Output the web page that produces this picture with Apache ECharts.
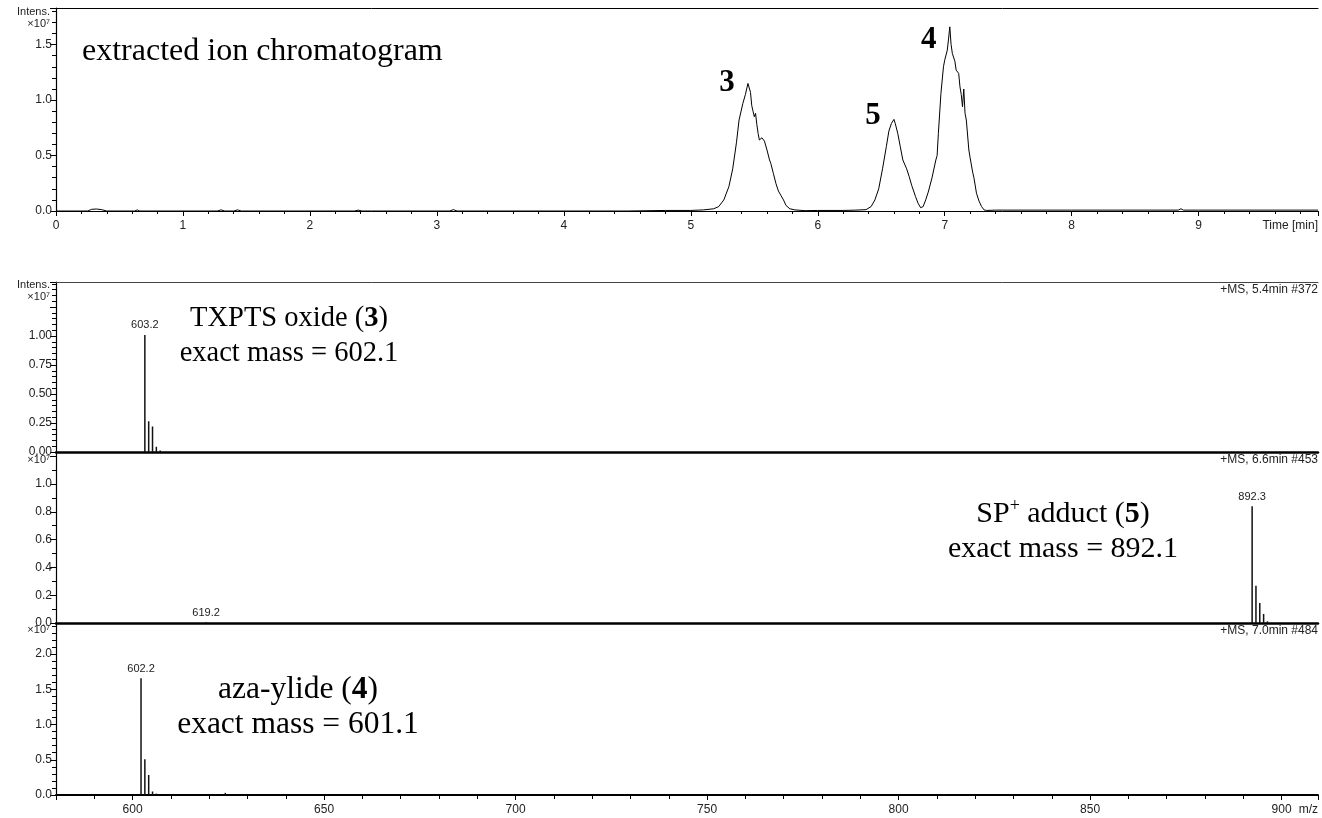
<!DOCTYPE html>
<html><head><meta charset="utf-8">
<script src="https://cdn.jsdelivr.net/npm/echarts@6/dist/echarts.min.js"></script>
<style>html,body{margin:0;padding:0;background:#fff}#c{width:1322px;height:818px}</style>
</head><body><div id="c"></div>
<script>
// ---- extracted ion chromatogram (time in min, intensity in 1e7) ----
const chromTime = [
  0.00, 0.25, 0.28, 0.32, 0.36, 0.40, 0.62, 0.64, 0.66, 1.27, 1.30, 1.33, 1.40, 1.43, 1.46, 2.35, 2.38, 2.41, 3.10, 3.13, 3.16, 4.50, 4.80, 5.00,
  5.10, 5.18, 5.22, 5.26, 5.30, 5.33, 5.36, 5.38, 5.41, 5.43, 5.45, 5.47, 5.48, 5.49, 5.50, 5.51, 5.52, 5.53, 5.54, 5.56, 5.58, 5.60, 5.62, 5.63, 5.65, 5.67, 5.69, 5.71, 5.73, 5.75, 5.78, 5.82, 5.90,
  6.00, 6.20, 6.30, 6.38, 6.42, 6.45, 6.48, 6.51, 6.54, 6.56, 6.58, 6.60, 6.61, 6.63, 6.65, 6.67, 6.70, 6.72, 6.74, 6.77, 6.79, 6.81, 6.83,
  6.85, 6.87, 6.90, 6.93, 6.94, 6.95, 6.97, 6.99, 7.00, 7.02, 7.03, 7.04, 7.05, 7.06, 7.08, 7.09, 7.11, 7.12, 7.13, 7.14, 7.15, 7.16, 7.17, 7.19, 7.20, 7.22, 7.23, 7.25, 7.27, 7.29, 7.31, 7.33,
  7.40, 8.00, 8.84, 8.86, 8.88, 9.00, 9.94
];
const chromInt = [
  0.000, 0.000, 0.015, 0.018, 0.012, 0.000, 0.000, 0.010, 0.000, 0.000, 0.010, 0.000, 0.000, 0.010, 0.000, 0.000, 0.008, 0.000, 0.000, 0.012, 0.000, 0.000, 0.005, 0.005,
  0.010, 0.020, 0.040, 0.100, 0.220, 0.380, 0.620, 0.820, 0.970, 1.050, 1.150, 1.070, 0.950, 0.900, 0.850, 0.880, 0.780, 0.700, 0.640, 0.660, 0.630, 0.550, 0.460, 0.430, 0.340, 0.250, 0.180, 0.140, 0.100, 0.050, 0.020, 0.010, 0.003,
  0.005, 0.005, 0.008, 0.012, 0.040, 0.100, 0.200, 0.380, 0.580, 0.720, 0.790, 0.826, 0.790, 0.700, 0.580, 0.460, 0.380, 0.310, 0.230, 0.130, 0.070, 0.030, 0.040,
  0.100, 0.170, 0.300, 0.460, 0.500, 0.700, 1.060, 1.300, 1.360, 1.450, 1.550, 1.660, 1.500, 1.420, 1.350, 1.270, 1.240, 1.120, 1.050, 0.940, 1.100, 0.880, 0.820, 0.550, 0.480, 0.350, 0.300, 0.160, 0.090, 0.040, 0.010, 0.005,
  0.008, 0.008, 0.008, 0.020, 0.008, 0.008, 0.008
];
const peakLabels = ['3', '5', '4'];
const peakTimes = [5.45, 6.60, 7.04];
const peakInts = [1.15, 0.826, 1.66];

// ---- mass spectra (m/z, intensity in 1e7) ----
const ms1Mz  = [603.2, 604.2, 605.2, 606.2, 607.2];
const ms1Int = [1.01, 0.265, 0.22, 0.045, 0.012];
const ms1Labeled = [603.2];
const ms2Mz  = [619.2, 892.3, 893.3, 894.3, 895.3, 896.3];
const ms2Int = [0.006, 0.84, 0.268, 0.144, 0.065, 0.012];
const ms2Labeled = [619.2, 892.3];
const ms3Mz  = [602.2, 603.2, 604.2, 605.2, 606.2, 624.2, 632.2, 812.0];
const ms3Int = [1.655, 0.506, 0.284, 0.05, 0.02, 0.03, 0.01, 0.01];
const ms3Labeled = [602.2];

const spectrumTitles = ['+MS, 5.4min #372', '+MS, 6.6min #453', '+MS, 7.0min #484'];

const SANS = 'Liberation Sans, Arial, sans-serif';
const SERIF = 'Liberation Serif, Times New Roman, serif';
const LBL = '#222';
const FS = 12;

const L = 56, W = 1262;
const grids = [
  {left: L, top: 8,   width: W, height: 203},
  {left: L, top: 282, width: W, height: 170},
  {left: L, top: 452, width: W, height: 171},
  {left: L, top: 623, width: W, height: 172}
];

function yAxis(gi, max, interval, split, labelMax, dec, name, nameGap) {
  return {
    type: 'value', gridIndex: gi, min: 0, max: max, interval: interval,
    axisLine: {show: true, lineStyle: {color: '#000', width: 1.2}},
    axisTick: {show: true, length: 6, lineStyle: {color: '#000'}},
    minorTick: {show: true, splitNumber: split, length: 4, lineStyle: {color: '#000'}},
    splitLine: {show: false},
    axisLabel: {
      color: LBL, fontFamily: SANS, fontSize: FS, margin: 4,
      formatter: v => (v > labelMax + 1e-9 ? '' : v.toFixed(dec))
    },
    name: name, nameLocation: 'end', nameGap: nameGap,
    nameTextStyle: {color: LBL, fontFamily: SANS, fontSize: 11, align: 'right', verticalAlign: 'top', lineHeight: 12, padding: [0, 6, 0, 0]}
  };
}

function msX(gi, showLabels, lineW) {
  return {
    type: 'value', gridIndex: gi, min: 580, max: 909.5, splitNumber: 5,
    axisLine: {show: true, onZero: false, lineStyle: {color: '#000', width: lineW}},
    axisTick: {show: showLabels, length: 5, lineStyle: {color: '#000'}},
    minorTick: {show: showLabels, splitNumber: 5, length: 4, lineStyle: {color: '#000'}},
    splitLine: {show: false},
    axisLabel: {show: showLabels, color: LBL, fontFamily: SANS, fontSize: FS, margin: 9, showMinLabel: false, showMaxLabel: false},
    name: showLabels ? 'm/z' : '', nameLocation: 'end', nameGap: 0,
    nameTextStyle: {color: LBL, fontFamily: SANS, fontSize: FS, align: 'right', verticalAlign: 'top', padding: [9, 0, 0, 0]}
  };
}

function topLine(gi, color, w) {
  return {type: 'value', gridIndex: gi, position: 'top', min: 0, max: 1,
    axisLine: {show: true, onZero: false, lineStyle: {color: color, width: w}},
    axisTick: {show: false}, axisLabel: {show: false}, splitLine: {show: false}};
}

function sticks(mz, inten, labeled, xi, yi) {
  return {
    type: 'bar', xAxisIndex: xi, yAxisIndex: yi, barWidth: 1.5, silent: true,
    itemStyle: {color: '#111'},
    data: mz.map((m, i) => ({
      value: [m, inten[i]],
      label: {show: labeled.indexOf(m) >= 0, position: 'top', distance: 4,
        formatter: p => p.value[0].toFixed(1), color: LBL, fontFamily: SANS, fontSize: 11}
    }))
  };
}

function compound(text, cx, top, size) {
  return {text: text, left: cx, textAlign: 'center', top: top, padding: 0,
    textStyle: {fontFamily: SERIF, fontSize: size, fontWeight: 'normal', color: '#000', lineHeight: 35,
      rich: {b: {fontFamily: SERIF, fontSize: size, fontWeight: 'bold', color: '#000', lineHeight: 35},
             sup: {fontFamily: SERIF, fontSize: Math.round(size * 0.6), color: '#000', verticalAlign: 'top', lineHeight: 35, padding: [0, 0, 12, 0]}}}};
}

const option = {
  animation: false,
  backgroundColor: '#fff',
  grid: grids.map(g => Object.assign({containLabel: false, outerBoundsMode: 'none'}, g)),
  title: [
    {text: 'extracted ion chromatogram', left: 82, top: 36, padding: 0,
      textStyle: {fontFamily: SERIF, fontSize: 32, fontWeight: 'normal', color: '#000'}},
    {text: spectrumTitles[0], right: 4, top: 284, padding: 0,
      textStyle: {fontFamily: SANS, fontSize: FS, fontWeight: 'normal', color: LBL}},
    {text: spectrumTitles[1], right: 4, top: 454, padding: 0,
      textStyle: {fontFamily: SANS, fontSize: FS, fontWeight: 'normal', color: LBL}},
    {text: spectrumTitles[2], right: 4, top: 625, padding: 0,
      textStyle: {fontFamily: SANS, fontSize: FS, fontWeight: 'normal', color: LBL}},
    compound('TXPTS oxide ({b|3})\nexact mass = 602.1', 289, 301, 28.5),
    compound('SP{sup|+} adduct ({b|5})\nexact mass = 892.1', 1063, 497, 30),
    compound('aza-ylide ({b|4})\nexact mass = 601.1', 298, 672, 31.5)
  ],
  xAxis: [
    {
      type: 'value', gridIndex: 0, min: 0, max: 9.94, interval: 1,
      axisLine: {show: true, onZero: false, lineStyle: {color: '#000', width: 1}},
      axisTick: {show: true, length: 5, lineStyle: {color: '#000'}},
      minorTick: {show: true, splitNumber: 5, length: 3, lineStyle: {color: '#000'}},
      splitLine: {show: false},
      axisLabel: {color: LBL, fontFamily: SANS, fontSize: FS, margin: 9, showMaxLabel: false},
      name: 'Time [min]', nameLocation: 'end', nameGap: 0,
      nameTextStyle: {color: LBL, fontFamily: SANS, fontSize: FS, align: 'right', verticalAlign: 'top', padding: [9, 0, 0, 0]}
    },
    msX(1, false, 2.5),
    msX(2, false, 2.5),
    msX(3, true, 1.8),
    topLine(0, '#000', 1),
    topLine(1, '#444', 1)
  ],
  yAxis: [
    yAxis(0, 1.83, 0.5, 5, 1.5, 1, 'Intens.\n×10⁷', 2),
    yAxis(1, 1.466, 0.25, 5, 1.0, 2, 'Intens.\n×10⁷', 3),
    yAxis(2, 1.23, 0.2, 2, 1.0, 1, '×10⁷', -2),
    yAxis(3, 2.44, 0.5, 5, 2.0, 1, '×10⁷', -1)
  ],
  series: [
    {
      type: 'line', xAxisIndex: 0, yAxisIndex: 0, showSymbol: false, silent: true,
      lineStyle: {color: '#000', width: 1}, itemStyle: {color: '#000'},
      data: chromTime.map((t, i) => [t, chromInt[i]]),
      markPoint: {
        symbol: 'circle', symbolSize: 0, silent: true,
        itemStyle: {color: 'rgba(0,0,0,0)'},
        label: {show: true, position: 'inside', fontFamily: SERIF, fontSize: 31, fontWeight: 'bold', color: '#000', formatter: p => p.name},
        data: peakLabels.map((n, i) => ({name: n, coord: [peakTimes[i], peakInts[i]],
          label: {offset: i === 2 ? [-21, 13] : (i === 1 ? [-21, -3] : [-21, 0])}}))
      }
    },
    sticks(ms1Mz, ms1Int, ms1Labeled, 1, 1),
    sticks(ms2Mz, ms2Int, ms2Labeled, 2, 2),
    sticks(ms3Mz, ms3Int, ms3Labeled, 3, 3)
  ]
};

echarts.init(document.getElementById('c'), null, {renderer: 'canvas'}).setOption(option);
</script>
</body></html>
